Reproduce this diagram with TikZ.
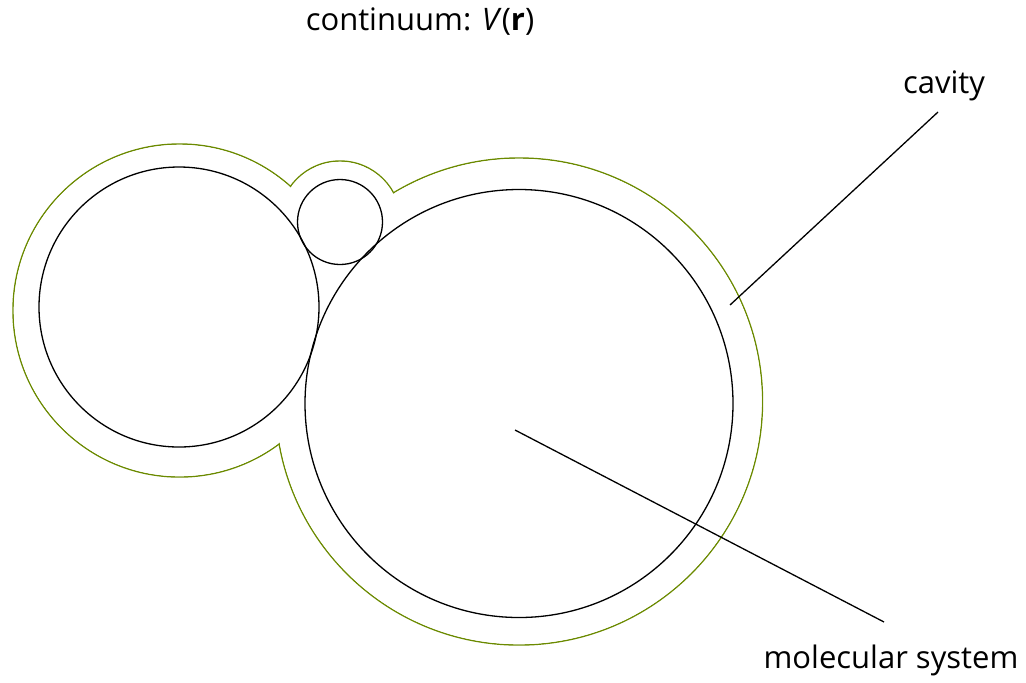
\documentclass[tikz,border=0pt]{standalone}
\usepackage{fontspec}
\setmainfont{Open Sans}
\definecolor{cavitygreen}{RGB}{107,138,0}

\begin{document}
\begin{tikzpicture}[x=0.5pt,y=-0.5pt,
  atom/.style={circle, draw, line width=0.65pt, inner sep=0pt},
  label/.style={font=\fontsize{15.5}{18}\selectfont},
  pointer/.style={line width=0.65pt}]
\useasboundingbox (0,0) rectangle (1026,682);
% cavity surface (union of enlarged spheres)
\foreach \cx/\cy/\r in {179.5/310.5/83.25pt, 340/222/30.5pt, 519/401.5/121.75pt}
  \draw[cavitygreen, line width=0.7pt] (\cx,\cy) circle[radius=\r];
\foreach \cx/\cy/\r in {179.5/310.5/82.85pt, 340/222/30.1pt, 519/401.5/121.35pt}
  \fill[white] (\cx,\cy) circle[radius=\r];
% molecular system
\node[atom, minimum size=140pt] (atomA) at (179,307) {};
\node[atom, minimum size=42.5pt] (atomB) at (340,222) {};
\node[atom, minimum size=214pt] (atomC) at (519,403.5) {};
% labels
\node[label] (continuum) at (420,22) {continuum: \textit{V}(\textbf{r})};
\node[label] (cavity) at (944,86) {cavity};
\node[label] (molecular) at (891,660) {molecular system};
\coordinate (cavtip) at (730,305);
\coordinate (cavtail) at (938,112);
\coordinate (moltip) at (515,430);
\coordinate (moltail) at (884,622);
\draw[pointer] (cavtail) -- (cavtip);
\draw[pointer] (moltip) -- (moltail);
\end{tikzpicture}
\end{document}
